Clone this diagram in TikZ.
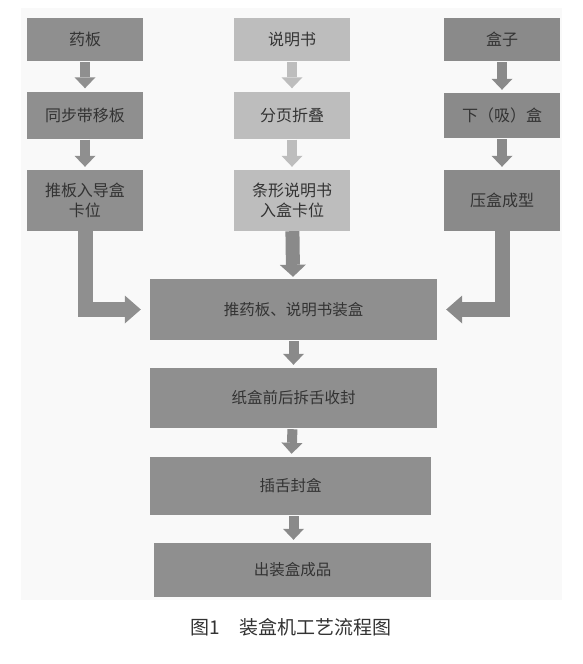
\documentclass[tikz,border=0pt]{standalone}
\usepackage{fontspec}
\newfontfamily\cjk{Noto Sans CJK SC}
\usetikzlibrary{arrows.meta}

\definecolor{panelgrey}{HTML}{F9F9F9}
\definecolor{leftgrey}{HTML}{8F8F8F}
\definecolor{midgrey}{HTML}{BDBDBD}
\definecolor{rightgrey}{HTML}{8A8A8A}
\definecolor{maingrey}{HTML}{8F8F8F}
\definecolor{txtgrey}{HTML}{333333}

\begin{document}
\begin{tikzpicture}[x=1pt, y=-1pt,
  stepbox/.style={rectangle, minimum width=116pt, inner sep=0pt, align=center, text=txtgrey, font=\cjk\fontsize{16}{20}\selectfont},
  mainbox/.style={rectangle, inner sep=0pt, align=center, fill=maingrey, text=txtgrey, font=\cjk\fontsize{15.5}{19}\selectfont},
  smallarrow/.style={line width=10pt, -{Triangle[width=21pt,length=11pt,line width=0pt]}, shorten <=1pt, shorten >=3pt},
  bigarrow/.style={line width=15pt, -{Triangle[width=28pt,length=16pt,line width=0pt]}, shorten >=9pt}]
  \useasboundingbox (0,0) rectangle (583,664);
  \fill[white] (0,0) rectangle (583,664);
  \fill[panelgrey] (21,8) rectangle (562,600);
  \node[stepbox, fill=leftgrey, minimum height=43pt] (yaoban) at (85,39.5) {药板};
  \node[stepbox, fill=leftgrey, minimum height=47pt] (tongbu) at (85,115) {同步带移板};
  \node[stepbox, fill=leftgrey, minimum height=61pt] (tuiban) at (85,200.5) {推板入导盒\\卡位};
  \node[stepbox, fill=midgrey, minimum height=43pt] (shuoming) at (292,39.5) {说明书};
  \node[stepbox, fill=midgrey, minimum height=47pt] (fenye) at (292,115) {分页折叠};
  \node[stepbox, fill=midgrey, minimum height=61pt] (tiaoxing) at (292,200.5) {条形说明书\\入盒卡位};
  \node[stepbox, fill=rightgrey, minimum height=43pt] (hezi) at (502,39.5) {盒子};
  \node[stepbox, fill=rightgrey, minimum height=45pt] (xiahe) at (502,115.5) {下（吸）盒};
  \node[stepbox, fill=rightgrey, minimum height=61pt] (yahe) at (502,200.5) {压盒成型};
  \node[mainbox, minimum width=287pt, minimum height=61pt] (zhuanghe) at (293.5,309.5) {推药板、说明书装盒};
  \node[mainbox, minimum width=287pt, minimum height=60pt] (shoufeng) at (293.5,398) {纸盒前后拆舌收封};
  \node[mainbox, minimum width=281pt, minimum height=58pt] (chashe) at (290.5,486) {插舌封盒};
  \node[mainbox, minimum width=277pt, minimum height=54pt] (chengpin) at (292.5,570) {出装盒成品};
  \node[text=txtgrey, font=\cjk\fontsize{19}{22}\selectfont] (caption) at (291,627) {图1\quad 装盒机工艺流程图};
  \draw[smallarrow, leftgrey] (yaoban) -- (tongbu);
  \draw[smallarrow, leftgrey] (tongbu) -- (tuiban);
  \draw[smallarrow, midgrey] (shuoming) -- (fenye);
  \draw[smallarrow, midgrey] (fenye) -- (tiaoxing);
  \draw[smallarrow, rightgrey] (hezi) -- (xiahe);
  \draw[smallarrow, rightgrey] (xiahe) -- (yahe);
  \draw[bigarrow, leftgrey] (tuiban.south) |- (zhuanghe.west);
  \draw[line width=14pt, rightgrey, -{Triangle[width=26pt,length=12pt,line width=0pt]}, shorten >=2pt] (tiaoxing) -- (zhuanghe);
  \draw[bigarrow, rightgrey] (yahe.south) |- (zhuanghe.east);
  \draw[smallarrow, rightgrey] (zhuanghe) -- (shoufeng);
  \draw[smallarrow, rightgrey] (shoufeng) -- (chashe);
  \draw[smallarrow, rightgrey] (chashe.south -| zhuanghe.south) -- (chengpin.north -| zhuanghe.south);
\end{tikzpicture}
\end{document}
